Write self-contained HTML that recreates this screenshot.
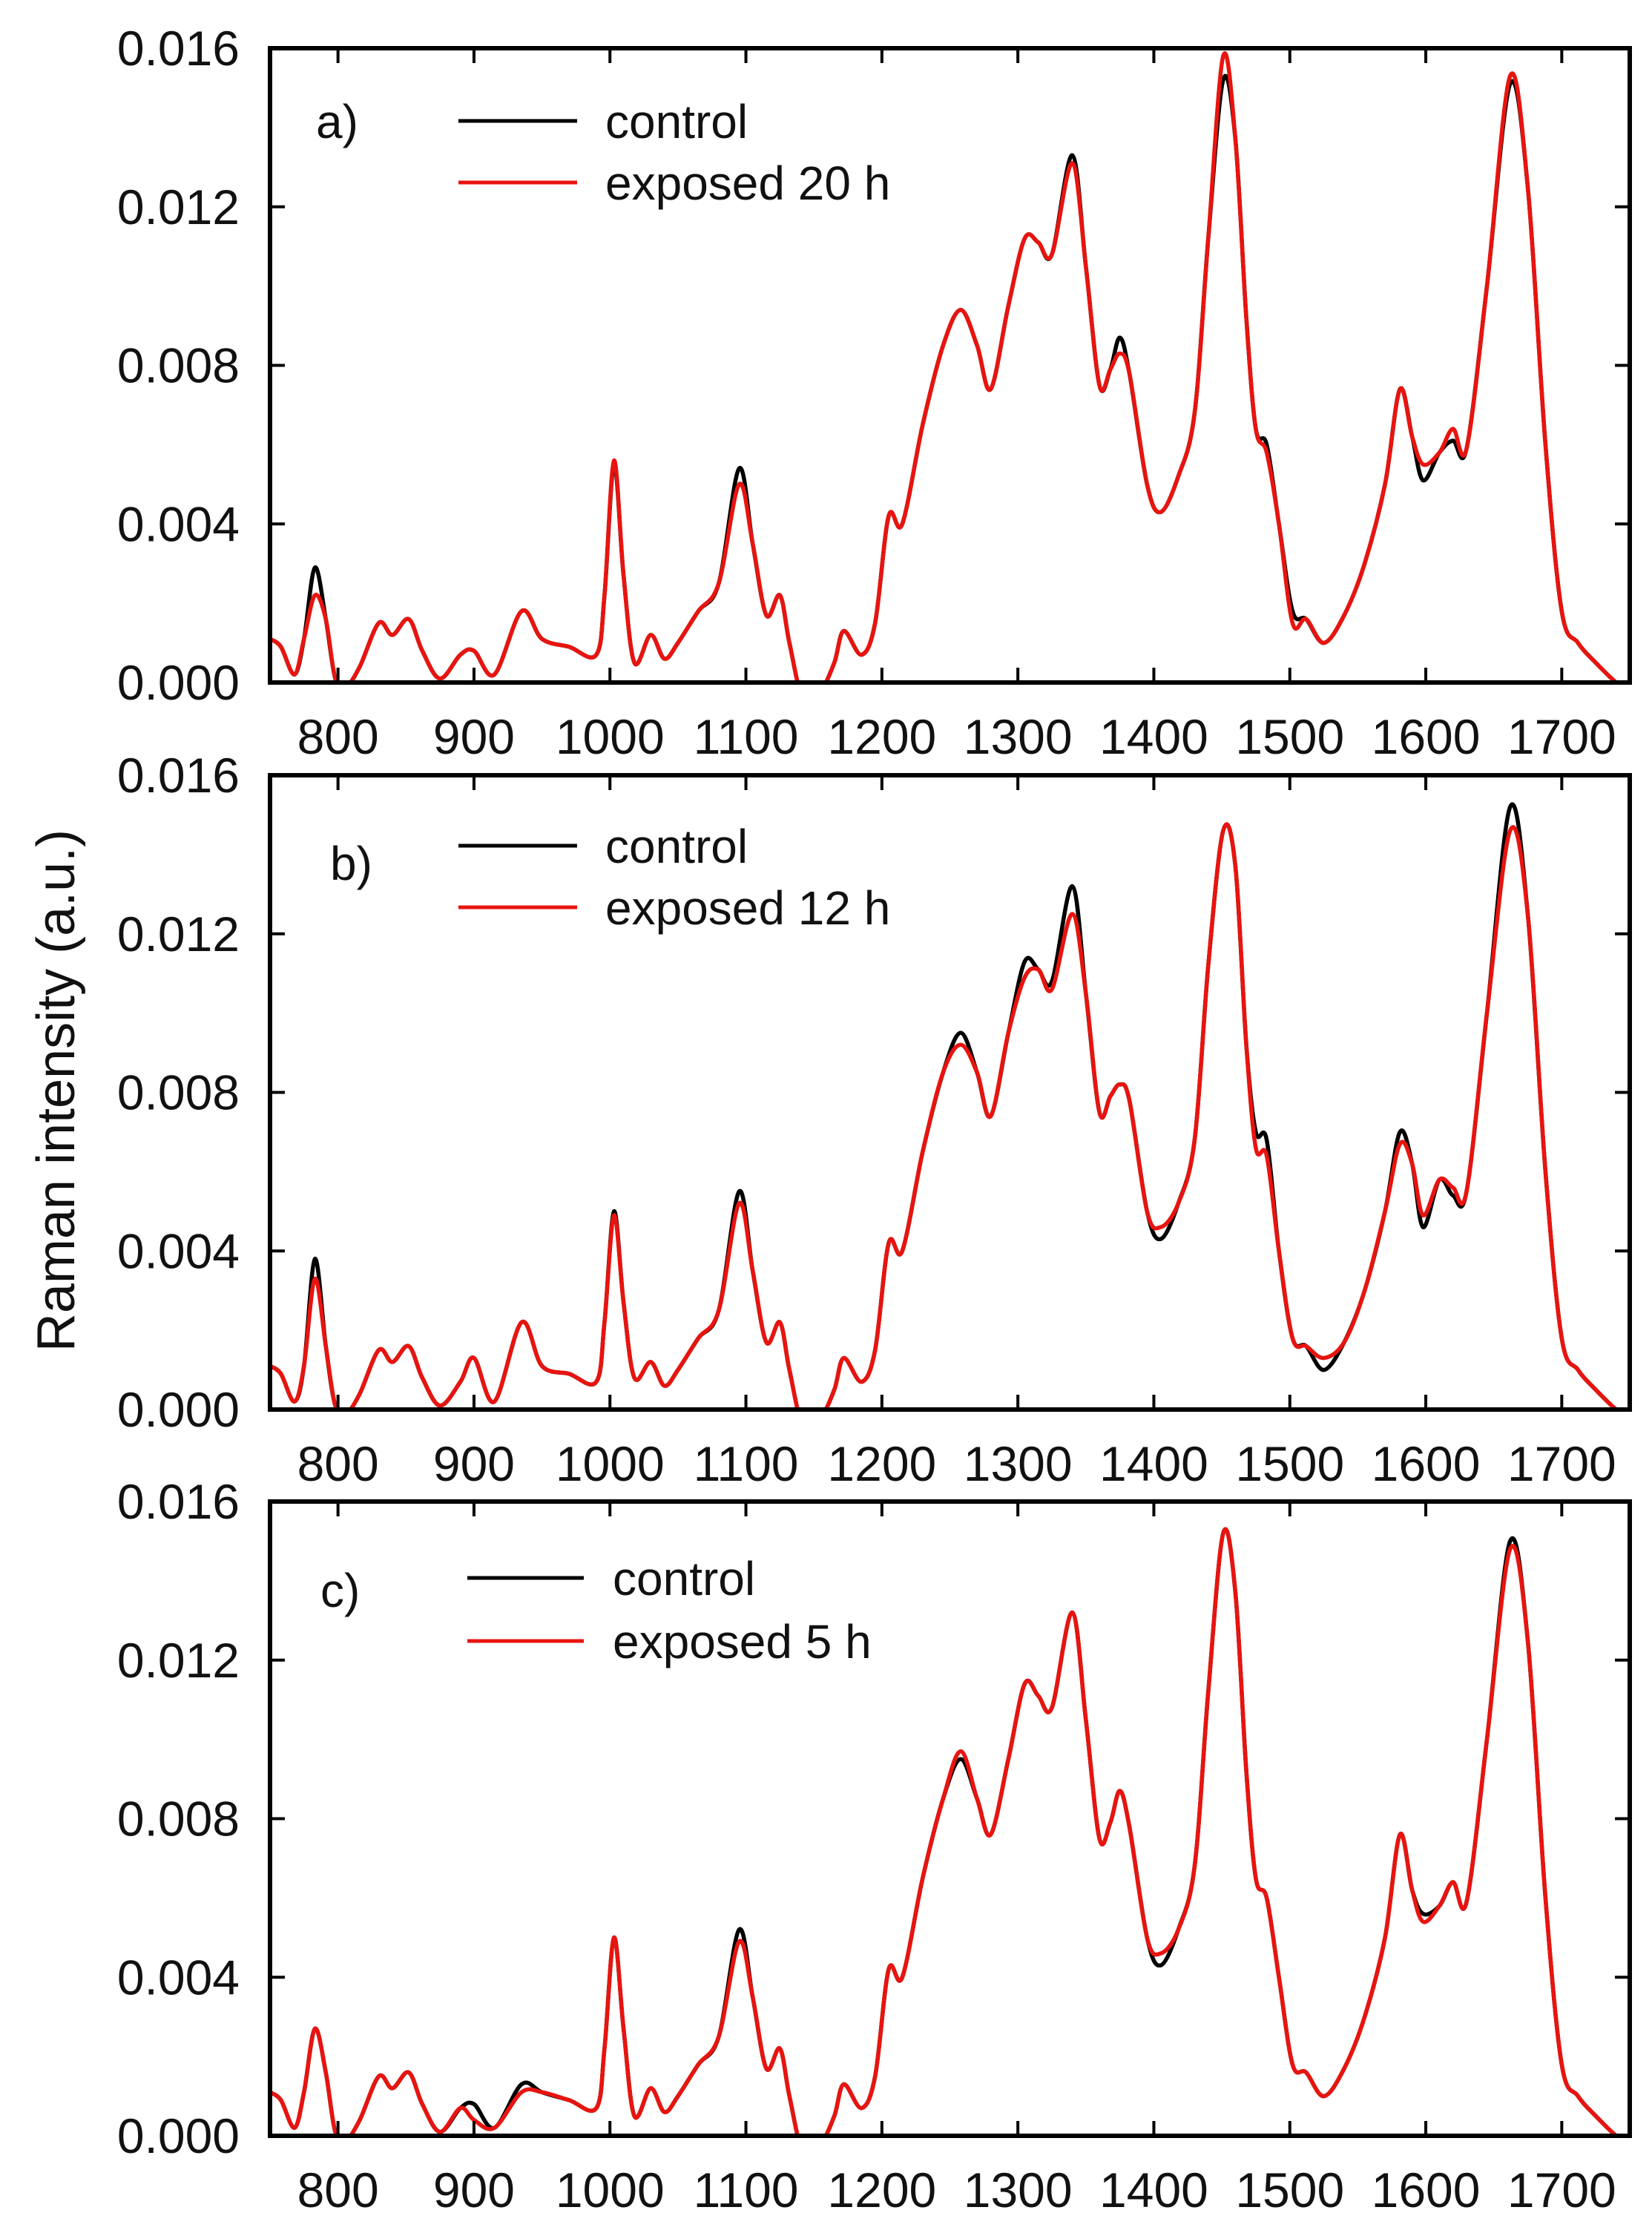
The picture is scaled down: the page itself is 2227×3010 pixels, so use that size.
<!DOCTYPE html>
<html><head><meta charset="utf-8"><style>
html,body{margin:0;padding:0;background:#fff;}
svg{display:block;}
text{font-family:"Liberation Sans",Arial,sans-serif;fill:#111;}
</style></head><body>
<svg id="s" width="2227" height="3010" xmlns="http://www.w3.org/2000/svg"></svg>
<script>
const S=document.getElementById('s');
const NS="http://www.w3.org/2000/svg";
function el(t,a,txt){const e=document.createElementNS(NS,t);for(const k in a)e.setAttribute(k,a[k]);if(txt!==undefined)e.textContent=txt;S.appendChild(e);return e;}
const L=364,R=2197,H=855;
const tops=[65,1045,2024];
const base=[[750,0.0011],[758,0.0009],[768,0.0002],[775,0.0011],[783,0.0029],[791,0.0016],[798,0.0001],[806,-0.0001],[816,0.0004],[830,0.0015],[840,0.0012],[852,0.0016],[862,0.0008],[875,0.0001],[890,0.0007],[900,0.0008],[915,0.0002],[935,0.0018],[950,0.0011],[970,0.0009],[990,0.0007],[996,0.0022],[1003,0.0055],[1010,0.0027],[1018,0.0005],[1030,0.0012],[1040,0.0006],[1050,0.0010],[1065,0.0018],[1080,0.0025],[1095,0.0054],[1105,0.0035],[1115,0.0017],[1125,0.0022],[1132,0.001],[1142,-0.0004],[1155,-0.0002],[1165,0.0005],[1172,0.0013],[1185,0.0007],[1195,0.0015],[1205,0.0042],[1215,0.0040],[1230,0.0065],[1245,0.0085],[1258,0.0094],[1270,0.0085],[1280,0.0074],[1293,0.0095],[1305,0.0112],[1315,0.0111],[1325,0.0108],[1340,0.0133],[1350,0.0105],[1360,0.0075],[1368,0.0079],[1375,0.0087],[1382,0.0078],[1395,0.0050],[1405,0.0043],[1418,0.0052],[1430,0.0068],[1440,0.0112],[1451,0.0152],[1460,0.0137],[1468,0.0092],[1475,0.0064],[1483,0.0060],[1492,0.0040],[1502,0.0018],[1512,0.0016],[1525,0.0010],[1540,0.0017],[1555,0.0030],[1570,0.0050],[1581,0.0074],[1590,0.0062],[1598,0.0051],[1610,0.0058],[1620,0.0061],[1630,0.0059],[1645,0.0100],[1662,0.0151],[1675,0.0125],[1688,0.0060],[1700,0.0018],[1712,0.0010],[1725,0.0005],[1740,0.0],[1750,-0.0002]];
function mod(o){return base.map(([x,y])=>[x,(x in o)?o[x]:y]);}
const series=[
 [mod({}),mod({783:0.0022,1003:0.0056,1095:0.005,1340:0.0131,1375:0.0083,1451:0.0158,1483:0.0058,1502:0.0015,1598:0.0055,1620:0.0064,1662:0.0153})],
 [mod({783:0.0038,900:0.0013,935:0.0022,1018:0.0008,1003:0.005,1095:0.0055,1258:0.0095,1305:0.0113,1340:0.0132,1375:0.0082,1451:0.0146,1475:0.007,1483:0.0068,1525:0.001,1581:0.007,1598:0.0046,1620:0.0054,1630:0.0055,1662:0.0152}),
  mod({783:0.0033,900:0.0013,935:0.0022,1018:0.0008,1003:0.0049,1095:0.0052,1258:0.0092,1305:0.0109,1325:0.0106,1340:0.0125,1375:0.0082,1405:0.0046,1451:0.0146,1475:0.0066,1483:0.0064,1525:0.0013,1581:0.0067,1598:0.0049,1620:0.0056,1630:0.0055,1662:0.0146})],
 [mod({783:0.0027,900:0.0008,935:0.0013,1003:0.005,1095:0.0052,1258:0.0095,1280:0.0076,1305:0.0114,1340:0.0132,1451:0.0152,1475:0.0065,1581:0.0076,1598:0.0056,1620:0.0064,1662:0.0150}),
  mod({783:0.0027,900:0.0004,935:0.0011,1003:0.005,1095:0.0049,1258:0.0097,1280:0.0076,1305:0.0114,1340:0.0132,1405:0.0046,1451:0.0152,1475:0.0065,1581:0.0076,1598:0.0054,1620:0.0064,1662:0.0148})]
];
const X=w=>L+(w-750)*(R-L)/1000;
function path(pts,top){
 const P=pts.map(([x,y])=>[X(x),top+(0.016-y)/0.016*H]);
 let d=`M${P[0][0]},${P[0][1]}`;
 for(let i=0;i<P.length-1;i++){
  const p0=P[Math.max(0,i-1)],p1=P[i],p2=P[i+1],p3=P[Math.min(P.length-1,i+2)];
  const c1=[p1[0]+(p2[0]-p0[0])/6,p1[1]+(p2[1]-p0[1])/6];
  const c2=[p2[0]-(p3[0]-p1[0])/6,p2[1]-(p3[1]-p1[1])/6];
  d+=`C${c1[0].toFixed(1)},${c1[1].toFixed(1)} ${c2[0].toFixed(1)},${c2[1].toFixed(1)} ${p2[0].toFixed(1)},${p2[1].toFixed(1)}`;
 }
 return d;
}
const labels=["a)","b)","c)"], exp=["exposed 20 h","exposed 12 h","exposed 5 h"];
const legX=[[618,778,816,426],[618,778,816,445],[630,787,826,432]];
const legY=[[163,246,163],[1140,1223,1163],[2127,2212,2143]];
tops.forEach((top,k)=>{
 const bot=top+H;
 const cp=el('clipPath',{id:'c'+k});
 const r=document.createElementNS(NS,'rect');
 r.setAttribute('x',L);r.setAttribute('y',top);r.setAttribute('width',R-L);r.setAttribute('height',H);cp.appendChild(r);
 el('path',{d:path(series[k][0],top),fill:'none',stroke:'#000','stroke-width':5.5,'clip-path':`url(#c${k})`});
 el('path',{d:path(series[k][1],top),fill:'none',stroke:'#e8140f','stroke-width':5.5,'clip-path':`url(#c${k})`});
 el('rect',{x:L,y:top,width:R-L,height:H,fill:'none',stroke:'#000','stroke-width':6});
 for(let i=0;i<=4;i++){
  const y=bot-i*H/4;
  el('line',{x1:L,y1:y,x2:L+20,y2:y,stroke:'#000','stroke-width':4});
  el('line',{x1:R,y1:y,x2:R-20,y2:y,stroke:'#000','stroke-width':4});
  el('text',{x:323,y:y+23,'text-anchor':'end','font-size':66},(i*0.004).toFixed(3));
 }
 for(let w=800;w<=1700;w+=100){
  const x=X(w);
  el('line',{x1:x,y1:bot,x2:x,y2:bot-20,stroke:'#000','stroke-width':4});
  el('line',{x1:x,y1:top,x2:x,y2:top+20,stroke:'#000','stroke-width':4});
  el('text',{x:x,y:bot+96,'text-anchor':'middle','font-size':66},w);
 }
 const lx=legX[k],ly=legY[k];
 el('line',{x1:lx[0],y1:ly[0],x2:lx[1],y2:ly[0],stroke:'#000','stroke-width':5});
 el('line',{x1:lx[0],y1:ly[1],x2:lx[1],y2:ly[1],stroke:'#e8140f','stroke-width':5});
 el('text',{x:lx[2],y:ly[0]+23,'font-size':64},'control');
 el('text',{x:lx[2],y:ly[1]+23,'font-size':64},exp[k]);
 el('text',{x:lx[3],y:ly[2]+23,'font-size':64},labels[k]);
});
el('text',{x:0,y:0,'text-anchor':'middle','font-size':72,transform:'translate(100,1470) rotate(-90)'},'Raman intensity (a.u.)');
</script>
</body></html>
